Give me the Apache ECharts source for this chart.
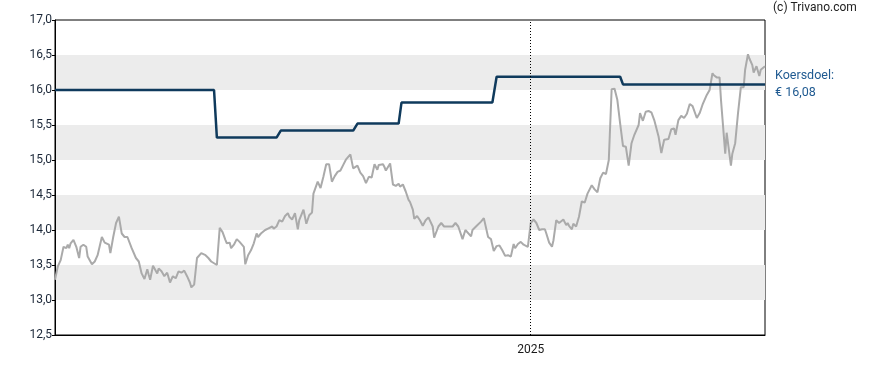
<!DOCTYPE html>
<html><head><meta charset="utf-8">
<script src="https://cdn.jsdelivr.net/npm/echarts@6/dist/echarts.min.js"></script>
<style>html,body{margin:0;padding:0;background:#fff}#c{width:888px;height:370px}</style>
</head><body><div id="c"></div>
<script>
// Time frame: day offsets counted from 1 Feb 2024
const startYear = 2024, startMonth = 1, startDay = 1;
const spanDays = 500;
const yearMarkDay = 335; // 1 Jan 2025

const yMin = 12.5, yMax = 17.0, yStep = 0.5;

const priceDays = [
  0,2,4,6,8,9,10,11,13,15,
  17,18,20,22,23,26,28,30,33,35,
  38,39,41,43,45,47,49,51,54,57,
  59,61,63,65,66,67,69,70,72,73,
  75,77,79,81,83,85,87,89,91,93,
  95,96,98,100,101,103,106,108,110,114,
  116,118,120,121,123,124,126,128,130,133,
  134,136,138,140,142,143,145,148,150,153,
  154,156,158,160,162,164,165,167,169,171,
  172,175,177,179,181,182,185,186,187,189,
  191,193,195,197,199,201,203,205,208,210,
  211,213,215,217,219,221,223,225,227,228,
  231,232,233,236,238,240,242,243,245,247,
  249,250,252,253,255,257,259,261,263,264,
  266,267,270,272,274,278,280,282,284,287,
  289,290,293,294,297,300,302,303,305,307,
  309,311,313,315,317,319,321,323,324,326,
  328,330,331,333,335,337,339,341,343,345,
  346,348,350,351,353,355,358,360,361,362,
  364,365,367,369,371,373,375,378,380,382,
  384,386,388,390,392,394,396,398,400,402,
  404,406,408,411,412,414,416,418,420,422,
  425,427,429,430,432,434,436,437,439,441,
  443,445,447,449,452,454,456,459,461,463,
  464,466,468,469,472,473,474,476,477,479,
  481,483,485,486,488,489,491,492,494,496,
  497,500
];
const priceValues = [
  13.29,13.48,13.57,13.76,13.74,13.79,13.74,13.81,13.86,13.76,
  13.60,13.76,13.79,13.76,13.62,13.51,13.55,13.64,13.90,13.82,
  13.79,13.67,13.90,14.10,14.19,13.95,13.90,13.90,13.74,13.60,
  13.55,13.38,13.30,13.44,13.36,13.29,13.49,13.48,13.38,13.45,
  13.41,13.34,13.39,13.25,13.34,13.31,13.41,13.39,13.42,13.34,
  13.25,13.18,13.22,13.60,13.60,13.67,13.64,13.60,13.55,13.50,
  14.03,13.97,13.86,13.81,13.82,13.74,13.79,13.87,13.83,13.76,
  13.51,13.64,13.71,13.81,13.95,13.90,13.95,14.00,14.02,14.05,
  14.02,14.05,14.14,14.12,14.20,14.24,14.19,14.15,14.24,14.01,
  14.14,14.29,14.09,14.21,14.25,14.52,14.69,14.69,14.60,14.76,
  14.94,14.94,14.69,14.77,14.83,14.85,14.93,15.01,15.08,14.88,
  14.88,14.92,14.82,14.77,14.67,14.76,14.75,14.94,14.86,14.93,
  14.94,14.90,14.85,14.95,14.65,14.63,14.66,14.62,14.65,14.55,
  14.43,14.40,14.29,14.16,14.20,14.14,14.06,14.14,14.18,14.16,
  14.05,13.89,14.05,14.10,14.05,14.05,14.05,14.10,14.05,13.87,
  14.00,13.98,13.91,14.00,14.06,14.12,14.17,14.18,13.90,13.87,
  13.70,13.77,13.78,13.71,13.63,13.64,13.62,13.80,13.74,13.80,
  13.83,13.79,13.77,13.76,14.10,14.15,14.10,14.00,14.01,14.01,
  13.95,13.82,13.76,13.85,14.14,14.10,14.15,14.07,14.10,14.06,
  14.01,14.09,14.05,14.19,14.41,14.39,14.52,14.64,14.58,14.54,
  14.74,14.82,14.80,15.00,16.01,16.02,15.86,15.52,15.20,15.19,
  14.92,15.24,15.36,15.50,15.67,15.56,15.69,15.70,15.68,15.57,
  15.34,15.10,15.29,15.31,15.30,15.44,15.45,15.36,15.57,15.63,
  15.60,15.66,15.80,15.77,15.60,15.67,15.79,15.93,16.00,16.24,
  16.21,16.18,16.18,15.86,15.09,15.39,15.38,14.92,15.09,15.24,
  15.67,16.04,16.04,16.29,16.51,16.45,16.36,16.25,16.34,16.20,
  16.29,16.34
];

const targetDays   = [0, 112, 114, 156, 159, 210, 213, 242, 244, 308, 311, 398, 400, 500];
const targetValues = [16.00, 16.00, 15.32, 15.32, 15.42, 15.42, 15.52, 15.52, 15.82, 15.82, 16.19, 16.19, 16.08, 16.08];

const targetLabel = 'Koersdoel:';
const creditText = '(c) Trivano.com';

function dayToTime(d) { return new Date(startYear, startMonth, startDay + d).getTime(); }
function fmtNL(v, n) { return v.toFixed(n).replace('.', ','); }

const priceData = priceDays.map((d, i) => [dayToTime(d), priceValues[i]]);
const targetData = targetDays.map((d, i) => [dayToTime(d), targetValues[i]]);

const FONT = 'Roboto, "Noto Sans", sans-serif';
const chart = echarts.init(document.getElementById('c'), null, { renderer: 'canvas' });
chart.setOption({
  animation: false,
  backgroundColor: '#ffffff',
  grid: { left: 55, right: 123, top: 20, bottom: 35, show: true, borderColor: '#000', borderWidth: 1, backgroundColor: 'transparent' },
  xAxis: {
    type: 'time',
    min: dayToTime(0),
    max: dayToTime(spanDays),
    axisLine: { show: true, lineStyle: { color: '#000', width: 1 } },
    axisTick: { show: false },
    splitLine: { show: false },
    axisLabel: {
      formatter: function (v) {
        const d = new Date(v);
        return (d.getMonth() === 0 && d.getDate() === 1) ? String(d.getFullYear()) : '';
      },
      hideOverlap: false,
      color: '#1a1a1a', fontFamily: FONT, fontSize: 12, margin: 9
    }
  },
  yAxis: {
    type: 'value',
    min: yMin, max: yMax, interval: yStep,
    axisLine: { show: true, lineStyle: { color: '#000', width: 1 } },
    axisTick: { show: true, length: 3, lineStyle: { color: '#000' } },
    splitLine: { show: false },
    splitArea: { show: true, areaStyle: { color: ['rgba(255,255,255,0)', '#ececec'] } },
    axisLabel: { formatter: v => fmtNL(v, 1), color: '#1b2738', fontFamily: FONT, fontSize: 12, margin: 3 }
  },
  series: [
    {
      name: 'Koers', type: 'line', data: priceData, showSymbol: false, z: 2,
      lineStyle: { color: '#aaaaaa', width: 2 },
      markLine: {
        silent: true, symbol: ['none', 'none'],
        label: { show: false },
        lineStyle: { color: '#000', type: [1, 2], width: 1 },
        data: [{ xAxis: dayToTime(yearMarkDay) }]
      }
    },
    {
      name: targetLabel, type: 'line', data: targetData, showSymbol: false, z: 3,
      lineStyle: { color: '#0f3a5c', width: 2.5 },
      endLabel: {
        show: true, distance: 10,
        formatter: p => targetLabel + '\n€ ' + fmtNL(p.value[1], 2),
        color: '#1f5a91', fontFamily: FONT, fontSize: 12.5, lineHeight: 17, align: 'left'
      }
    }
  ],
  graphic: [
    { type: 'text', left: 773, top: 2, style: { text: creditText, fill: '#222', font: '12px ' + FONT } }
  ]
});
</script></body></html>
